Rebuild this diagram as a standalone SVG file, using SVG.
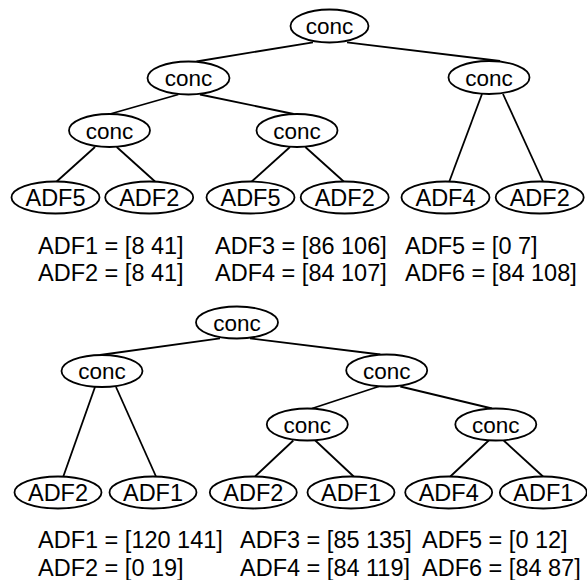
<svg xmlns="http://www.w3.org/2000/svg" width="587" height="580" viewBox="0 0 587 580">
<style>
.n ellipse{fill:#fff;stroke:#000;stroke-width:1.8}
.n text{font-family:"Liberation Sans",Arial,sans-serif;font-size:22.5px;fill:#000;text-anchor:middle}
.n text.lf{font-size:23.5px}
.e line{stroke:#000;stroke-width:1.8}
.lg{font-family:"Liberation Sans",Arial,sans-serif;font-size:23.5px;fill:#000}
</style>
<rect width="587" height="580" fill="#fff"/>
<g id="connectors" class="e">
<line x1="313" y1="42.3" x2="196.5" y2="61.5"/>
<line x1="347" y1="42.3" x2="500" y2="61"/>
<line x1="178.3" y1="94.5" x2="110" y2="114"/>
<line x1="200" y1="94.5" x2="293.7" y2="114"/>
<line x1="95" y1="147" x2="56.7" y2="181.5"/>
<line x1="116.7" y1="147" x2="155" y2="181.5"/>
<line x1="290" y1="147" x2="251.7" y2="181.5"/>
<line x1="305.3" y1="147" x2="343.7" y2="181.5"/>
<line x1="482" y1="94" x2="449.3" y2="181.5"/>
<line x1="503" y1="94" x2="543" y2="181.5"/>
<line x1="220" y1="338.3" x2="100" y2="355"/>
<line x1="250" y1="338.3" x2="380.3" y2="354.5"/>
<line x1="95" y1="387" x2="63.3" y2="476.5"/>
<line x1="116" y1="387" x2="156" y2="476.5"/>
<line x1="378.7" y1="386.5" x2="312" y2="408.5"/>
<line x1="400.3" y1="386.5" x2="492" y2="408.5"/>
<line x1="293.3" y1="440.5" x2="255" y2="476.5"/>
<line x1="315.3" y1="440.5" x2="353.7" y2="476.5"/>
<line x1="488.7" y1="440.5" x2="450.3" y2="476.5"/>
<line x1="503.7" y1="440.5" x2="543" y2="476.5"/>
</g>
<g id="t_root" class="n"><ellipse cx="329.5" cy="26" rx="39" ry="16.5"/><text x="329.5" y="34">conc</text></g>
<g id="t_c1" class="n"><ellipse cx="188.5" cy="78" rx="41" ry="16.5"/><text x="188.5" y="86">conc</text></g>
<g id="t_c2" class="n"><ellipse cx="489" cy="77.5" rx="40.5" ry="16.5"/><text x="489" y="85.5">conc</text></g>
<g id="t_c11" class="n"><ellipse cx="109.5" cy="130.5" rx="40.5" ry="16.5"/><text x="109.5" y="138.5">conc</text></g>
<g id="t_c12" class="n"><ellipse cx="297" cy="130.5" rx="40.5" ry="16.5"/><text x="297" y="138.5">conc</text></g>
<g id="t_l1" class="n"><ellipse cx="55.5" cy="197.5" rx="44" ry="16"/><text class="lf" x="55.5" y="206">ADF5</text></g>
<g id="t_l2" class="n"><ellipse cx="149.2" cy="197.5" rx="44" ry="16"/><text class="lf" x="149.2" y="206">ADF2</text></g>
<g id="t_l3" class="n"><ellipse cx="250.5" cy="197.5" rx="44" ry="16"/><text class="lf" x="250.5" y="206">ADF5</text></g>
<g id="t_l4" class="n"><ellipse cx="344.7" cy="197.5" rx="44" ry="16"/><text class="lf" x="344.7" y="206">ADF2</text></g>
<g id="t_l5" class="n"><ellipse cx="445.5" cy="197.5" rx="44" ry="16"/><text class="lf" x="445.5" y="206">ADF4</text></g>
<g id="t_l6" class="n"><ellipse cx="539.7" cy="197.5" rx="44" ry="16"/><text class="lf" x="539.7" y="206">ADF2</text></g>
<g id="t_legend" class="lg">
<text x="38" y="254">ADF1 = [8 41]</text>
<text x="215" y="254">ADF3 = [86 106]</text>
<text x="405" y="254">ADF5 = [0 7]</text>
<text x="38" y="281">ADF2 = [8 41]</text>
<text x="215" y="281">ADF4 = [84 107]</text>
<text x="405" y="281">ADF6 = [84 108]</text>
</g>
<g id="b_root" class="n"><ellipse cx="237" cy="322.5" rx="41" ry="16"/><text x="237" y="330.5">conc</text></g>
<g id="b_c1" class="n"><ellipse cx="102" cy="371" rx="40.5" ry="16"/><text x="102" y="379">conc</text></g>
<g id="b_c2" class="n"><ellipse cx="386.7" cy="370.5" rx="40.5" ry="16"/><text x="386.7" y="378.5">conc</text></g>
<g id="b_c21" class="n"><ellipse cx="307.3" cy="424.5" rx="40.5" ry="16"/><text x="307.3" y="432.5">conc</text></g>
<g id="b_c22" class="n"><ellipse cx="495.8" cy="424.5" rx="40.5" ry="16"/><text x="495.8" y="432.5">conc</text></g>
<g id="b_l1" class="n"><ellipse cx="58" cy="492.5" rx="43.5" ry="16"/><text class="lf" x="58" y="501">ADF2</text></g>
<g id="b_l2" class="n"><ellipse cx="153" cy="492.5" rx="43.5" ry="16"/><text class="lf" x="153" y="501">ADF1</text></g>
<g id="b_l3" class="n"><ellipse cx="253.3" cy="492.5" rx="43.5" ry="16"/><text class="lf" x="253.3" y="501">ADF2</text></g>
<g id="b_l4" class="n"><ellipse cx="351" cy="492.5" rx="43.5" ry="16"/><text class="lf" x="351" y="501">ADF1</text></g>
<g id="b_l5" class="n"><ellipse cx="448.7" cy="492.5" rx="43.5" ry="16"/><text class="lf" x="448.7" y="501">ADF4</text></g>
<g id="b_l6" class="n"><ellipse cx="543.3" cy="492.5" rx="43.5" ry="16"/><text class="lf" x="543.3" y="501">ADF1</text></g>
<g id="b_legend" class="lg">
<text x="38" y="548">ADF1 = [120 141]</text>
<text x="240" y="548">ADF3 = [85 135]</text>
<text x="422" y="548">ADF5 = [0 12]</text>
<text x="38" y="576">ADF2 = [0 19]</text>
<text x="240" y="576">ADF4 = [84 119]</text>
<text x="422" y="576">ADF6 = [84 87]</text>
</g>
</svg>
